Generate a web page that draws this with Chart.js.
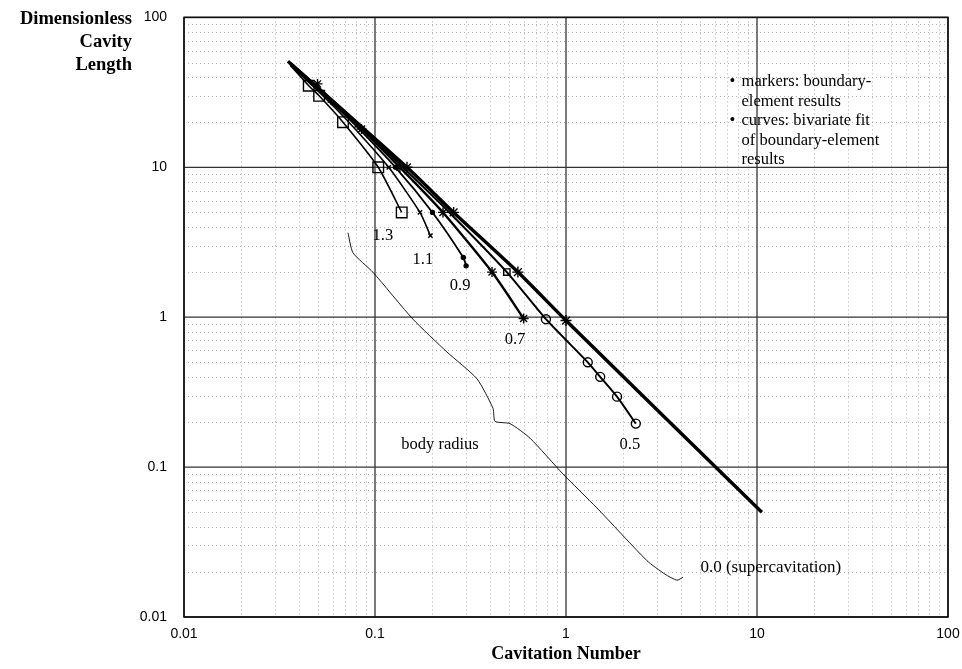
<!DOCTYPE html>
<html>
<head>
<meta charset="utf-8">
<script src="https://cdn.jsdelivr.net/npm/chart.js@4/dist/chart.umd.min.js"></script>
<style>
  html, body { margin: 0; padding: 0; background: #fff; }
  #wrap { position: relative; width: 962px; height: 669px; }
</style>
</head>
<body>
<div id="wrap"><canvas id="chart" width="962" height="669"></canvas></div>
<script>
// tick values (decades) on both axes
const xTicks = [0.01, 0.1, 1, 10, 100];
const yTicks = [0.01, 0.1, 1, 10, 100];

// fitted curves, one per body radius
const curve13X = [0.036, 0.045, 0.051, 0.068, 0.104, 0.138];
const curve13Y = [48, 35, 30, 20, 10, 5];
const curve11X = [0.036, 0.052, 0.073, 0.118, 0.172, 0.195];
const curve11Y = [48, 31, 20, 10, 5, 3.5];
const curve09X = [0.036, 0.053, 0.076, 0.128, 0.2, 0.29, 0.3];
const curve09Y = [49, 31, 20, 10, 5, 2.5, 2.2];
const curve07X = [0.036, 0.054, 0.078, 0.135, 0.227, 0.41, 0.6];
const curve07Y = [49, 31, 20, 10, 5, 2, 0.98];
const curve05X = [0.036, 0.055, 0.08, 0.14, 0.245, 0.49, 0.785, 1.3, 1.51, 1.85, 2.32];
const curve05Y = [50, 31, 20, 10, 5, 2, 0.97, 0.5, 0.4, 0.295, 0.195];
const curve00X = [0.035, 0.147, 0.258, 0.56, 1.0, 10.6];
const curve00Y = [51, 10, 5, 2, 0.95, 0.05];

// boundary-element markers
const mark13X = [0.045, 0.051, 0.068, 0.104, 0.138];
const mark13Y = [35, 30, 20, 10, 5];
const mark11X = [0.058, 0.08, 0.118, 0.172, 0.195];
const mark11Y = [28, 19, 10, 5, 3.5];
const mark09X = [0.06, 0.128, 0.2, 0.29, 0.3];
const mark09Y = [27, 10, 5, 2.5, 2.2];
const mark07X = [0.05, 0.085, 0.135, 0.227, 0.41, 0.6];
const mark07Y = [36, 18, 10, 5, 2, 0.98];
const mark05X = [0.49, 0.785, 1.3, 1.51, 1.85, 2.32];
const mark05Y = [2, 0.97, 0.5, 0.4, 0.295, 0.195];
const mark00X = [0.147, 0.258, 0.56, 1.0];
const mark00Y = [10, 5, 2, 0.95];

// body radius brace
const braceX = [0.0722, 0.0767, 0.0977, 0.158, 0.238, 0.342, 0.415, 0.425, 0.509, 0.648, 0.964, 1.45, 2.65, 3.3, 3.81, 4.1];
const braceY = [3.66, 2.69, 1.99, 0.97, 0.586, 0.388, 0.246, 0.202, 0.195, 0.156, 0.09, 0.0535, 0.0238, 0.0193, 0.0176, 0.0184];

// curve labels
const labelText = ['1.3', '1.1', '0.9', '0.7', '0.5', 'body radius', '0.0 (supercavitation)'];
const labelX = [0.110, 0.178, 0.279, 0.541, 2.16, 0.219, 11.8];
const labelY = [3.49, 2.42, 1.63, 0.704, 0.142, 0.142, 0.0214];

const noteLines = ['markers: boundary-', 'element results', 'curves: bivariate fit', 'of boundary-element', 'results'];
const noteBullets = [true, false, true, false, false];

function pts(xs, ys) {
    return xs.map((x, i) => ({ x: x, y: ys[i] }));
}

function curve(xs, ys, w) {
    return {
        data: pts(xs, ys), showLine: true, borderColor: '#000', borderWidth: w,
        pointRadius: 0, tension: 0.2, fill: false
    };
}

function markers(xs, ys, style, r, filled) {
    return {
        data: pts(xs, ys), showLine: false, pointStyle: style, pointRadius: r,
        pointBorderColor: '#000', pointBackgroundColor: filled ? '#000' : 'rgba(255,255,255,0)',
        pointBorderWidth: 1.4
    };
}

const serif = '"Liberation Serif", "Times New Roman", serif';

// graph-paper grid
const gridPlugin = {
    id: 'grid',
    beforeDatasetsDraw(chart) {
        const ctx = chart.ctx, a = chart.chartArea;
        const xs = chart.scales.x, ys = chart.scales.y;
        ctx.save();
        for (let e = -2; e < 2; e++) {
            for (let m = 2; m <= 9; m++) {
                const v = m * Math.pow(10, e);
                ctx.strokeStyle = '#b0b0b0';
                ctx.lineWidth = 1;
                ctx.setLineDash([1, 3]);
                const px = Math.round(xs.getPixelForValue(v)) + 0.5;
                const py = Math.round(ys.getPixelForValue(v)) + 0.5;
                ctx.beginPath(); ctx.moveTo(px, a.top); ctx.lineTo(px, a.bottom); ctx.stroke();
                ctx.beginPath(); ctx.moveTo(a.left, py); ctx.lineTo(a.right, py); ctx.stroke();
            }
        }
        ctx.setLineDash([]);
        ctx.strokeStyle = '#333';
        ctx.lineWidth = 1.3;
        xTicks.forEach(v => {
            const px = xs.getPixelForValue(v);
            ctx.beginPath(); ctx.moveTo(px, a.top); ctx.lineTo(px, a.bottom); ctx.stroke();
        });
        yTicks.forEach(v => {
            const py = ys.getPixelForValue(v);
            ctx.beginPath(); ctx.moveTo(a.left, py); ctx.lineTo(a.right, py); ctx.stroke();
        });
        ctx.lineWidth = 1.6;
        ctx.strokeStyle = '#111';
        ctx.strokeRect(a.left, a.top, a.right - a.left, a.bottom - a.top);
        ctx.restore();
    },
    afterDatasetsDraw(chart) {
        const ctx = chart.ctx;
        const xs = chart.scales.x, ys = chart.scales.y;
        ctx.save();
        ctx.fillStyle = '#000';
        ctx.textAlign = 'center';
        ctx.textBaseline = 'middle';
        labelText.forEach((t, i) => {
            ctx.font = (i === 6 ? '17px ' : '16.5px ') + serif;
            ctx.fillText(t, xs.getPixelForValue(labelX[i]), ys.getPixelForValue(labelY[i]));
        });
        // note block
        ctx.textAlign = 'left';
        ctx.font = '16.5px ' + serif;
        const nx = xs.getPixelForValue(8.3), ny = ys.getPixelForValue(37);
        noteLines.forEach((t, i) => {
            if (noteBullets[i]) ctx.fillText('\u2022', nx - 12, ny + i * 19.5);
            ctx.fillText(t, nx, ny + i * 19.5);
        });
        // y axis title
        ctx.font = 'bold 18.5px ' + serif;
        ctx.textAlign = 'right';
        ['Dimensionless', 'Cavity', 'Length'].forEach((t, i) => {
            ctx.fillText(t, 132, 19 + i * 23);
        });
        ctx.restore();
    }
};

new Chart(document.getElementById('chart').getContext('2d'), {
    type: 'scatter',
    data: {
        datasets: [
            curve(braceX, braceY, 0.9),
            curve(curve13X, curve13Y, 1.6),
            curve(curve11X, curve11Y, 1.6),
            curve(curve09X, curve09Y, 1.8),
            curve(curve07X, curve07Y, 2.4),
            curve(curve05X, curve05Y, 2),
            curve(curve00X, curve00Y, 3.4),
            markers(mark13X, mark13Y, 'rect', 7.5, false),
            markers(mark11X, mark11Y, 'crossRot', 3, false),
            markers(mark09X, mark09Y, 'circle', 2, true),
            markers(mark07X, mark07Y, 'star', 5, false),
            markers(mark05X, mark05Y, ['rect', 'circle', 'circle', 'circle', 'circle', 'circle'], 4.5, false),
            markers(mark00X, mark00Y, 'star', 5.5, false)
        ]
    },
    options: {
        responsive: false,
        animation: false,
        layout: { padding: { top: 13, right: 14, left: 0, bottom: 0 } },
        plugins: { legend: { display: false }, tooltip: { enabled: false } },
        scales: {
            x: {
                type: 'logarithmic', min: 0.01, max: 100,
                grid: { display: false },
                border: { display: false },
                afterBuildTicks: s => { s.ticks = xTicks.map(v => ({ value: v })); },
                afterFit: s => { s.height = 52; },
                ticks: {
                    color: '#000', padding: 1, maxRotation: 0, autoSkip: false,
                    font: { family: '"Liberation Sans Narrow", "Liberation Sans", Arial, sans-serif', size: 14 },
                    callback: v => String(v)
                },
                title: {
                    display: true, text: 'Cavitation Number', color: '#000',
                    font: { family: serif, size: 18, weight: 'bold' }, padding: { top: 2 }
                }
            },
            y: {
                type: 'logarithmic', min: 0.01, max: 100,
                grid: { display: false },
                border: { display: false },
                afterBuildTicks: s => { s.ticks = yTicks.map(v => ({ value: v })); },
                afterFit: s => { s.width = 184; },
                ticks: {
                    color: '#000', padding: 9, autoSkip: false,
                    font: { family: '"Liberation Sans Narrow", "Liberation Sans", Arial, sans-serif', size: 14 },
                    callback: v => String(v)
                }
            }
        }
    },
    plugins: [gridPlugin]
});
</script>
</body>
</html>
